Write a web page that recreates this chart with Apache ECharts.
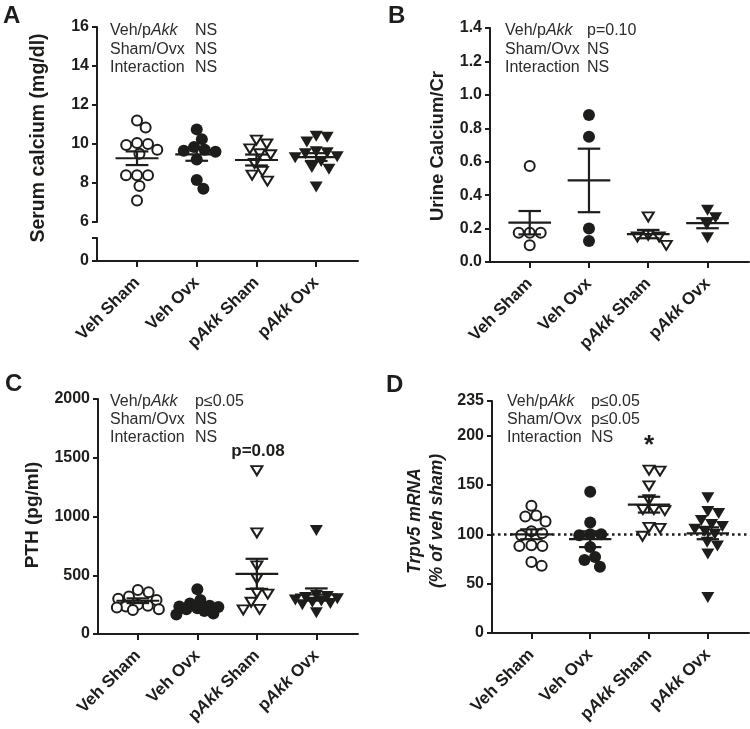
<!DOCTYPE html>
<html><head><meta charset="utf-8">
<script src="https://cdn.jsdelivr.net/npm/echarts@6/dist/echarts.min.js"></script>
<style>html,body{margin:0;padding:0;background:#fff}#c{width:750px;height:729px}</style>
</head><body><div id="c"></div>
<script>
// ---------- DATA ----------
const categories = ['Veh Sham', 'Veh Ovx', 'pAkk Sham', 'pAkk Ovx'];

// A: Serum calcium (mg/dl)
const serumVehSham = [11.2, 10.85, 10.05, 10.0, 9.95, 9.7, 9.5, 8.4, 8.4, 8.4, 7.85, 7.1];
const serumVehOvx  = [10.75, 10.25, 9.85, 9.7, 9.65, 9.6, 9.2, 8.15, 7.7];
const serumAkkSham = [10.2, 10.0, 9.75, 9.5, 9.45, 9.0, 8.6, 8.4, 8.1];
const serumAkkOvx  = [10.4, 10.35, 10.1, 9.6, 9.55, 9.5, 9.35, 9.3, 9.1, 8.8, 8.7, 7.8];
const serumMean = [9.27, 9.47, 9.18, 9.33];
const serumSem  = [0.35, 0.33, 0.28, 0.2];

// B: Urine Calcium/Cr
const urineVehSham = [0.575, 0.175, 0.175, 0.175, 0.1];
const urineVehOvx  = [0.88, 0.75, 0.2, 0.125];
const urineAkkSham = [0.27, 0.16, 0.15, 0.15, 0.1];
const urineAkkOvx  = [0.31, 0.265, 0.225, 0.145];
const urineMean = [0.235, 0.488, 0.167, 0.232];
const urineSem  = [0.07, 0.19, 0.025, 0.03];

// C: PTH (pg/ml)
const pthVehSham = [375, 355, 320, 300, 290, 250, 240, 235, 225, 210, 205];
const pthVehOvx  = [380, 290, 260, 240, 235, 230, 220, 210, 195, 175, 165];
const pthAkkSham = [1390, 860, 580, 470, 350, 340, 270, 210, 205];
const pthAkkOvx  = [880, 330, 320, 310, 300, 290, 280, 270, 260, 250, 180];
const pthMean = [283, 240, 512, 336];
const pthSem  = [20, 22, 128, 52];

// D: Trpv5 mRNA (% of veh sham)
const trpvVehSham = [129, 119, 118, 113, 103, 101, 99, 89, 88, 88, 72, 68];
const trpvVehOvx  = [143, 112, 100, 100, 99, 87, 77, 74, 67];
const trpvAkkSham = [165, 164, 149, 135, 125, 125, 124, 107, 106, 98];
const trpvAkkOvx  = [137, 123, 121, 114, 110, 108, 105, 103, 100, 92, 88, 80, 36];
const trpvMean = [100, 95, 130, 101];
const trpvSem  = [5, 8, 8, 6];
const trpvTicks = [0, 50, 100, 150, 200, 235];
const trpvReference = 100;

// ---------- LAYOUT ----------
const FONT = "'Liberation Sans', Arial, Helvetica, sans-serif";
const INK = '#1d1d1b';
const X_MIN = 0.33, X_MAX = 4.7;
const grids = [
  {left: 97,  top: 27,  width: 261, height: 195}, // A upper (6-16)
  {left: 97,  top: 238, width: 261, height: 23},  // A lower (0)
  {left: 490, top: 28,  width: 259, height: 234}, // B
  {left: 98,  top: 399, width: 260, height: 235}, // C
  {left: 492, top: 401, width: 257, height: 232}  // D
];

// simple beeswarm: offsets (px) that avoid overlap, limited to a max half-width
function swarm(values, pxPerY, pxPerX, diam, maxHalf) {
  const order = values.map((v, i) => i).sort((a, b) => values[b] - values[a]);
  const placed = [];
  const off = new Array(values.length).fill(0);
  for (const i of order) {
    const y = values[i] * pxPerY;
    let cands = [0];
    for (const p of placed) {
      const dy = Math.abs(p.y - y);
      if (dy < diam) {
        const dx = Math.sqrt(diam * diam - dy * dy);
        cands.push(p.x + dx, p.x - dx);
      }
    }
    cands = cands.filter(c => Math.abs(c) <= maxHalf + 1e-6);
    cands.sort((a, b) => Math.abs(a) - Math.abs(b) || b - a);
    let chosen = null;
    for (const c of cands) {
      if (placed.every(p => (p.x - c) ** 2 + (p.y - y) ** 2 >= diam * diam - 1e-6)) { chosen = c; break; }
    }
    if (chosen === null) {
      let best = -1;
      for (let c = -maxHalf; c <= maxHalf + 1e-6; c += 1) {
        const md = Math.min(...placed.map(p => Math.hypot(p.x - c, p.y - y)));
        if (md > best + 1e-6 || (Math.abs(md - best) < 1e-6 && Math.abs(c) < Math.abs(chosen))) { best = md; chosen = c; }
      }
    }
    off[i] = chosen / pxPerX;
    placed.push({x: chosen, y});
  }
  return off;
}

const markerStyles = [
  {symbol: 'circle', symbolSize: 10, symbolRotate: 0, itemStyle: {color: '#fff', borderColor: INK, borderWidth: 2, opacity: 1}},
  {symbol: 'circle', symbolSize: 12, symbolRotate: 0, itemStyle: {color: INK, borderWidth: 0, opacity: 1}},
  {symbol: 'triangle', symbolSize: [11, 9], symbolRotate: 180, itemStyle: {color: '#fff', borderColor: INK, borderWidth: 2, opacity: 1}},
  {symbol: 'triangle', symbolSize: [13, 11], symbolRotate: 180, itemStyle: {color: INK, borderWidth: 0, opacity: 1}}
];

const panels = [
  {grid: 0, yMin: 6, yMax: 16, groups: [serumVehSham, serumVehOvx, serumAkkSham, serumAkkOvx], mean: serumMean, sem: serumSem},
  {grid: 2, yMin: 0, yMax: 1.4, groups: [urineVehSham, urineVehOvx, urineAkkSham, urineAkkOvx], mean: urineMean, sem: urineSem},
  {grid: 3, yMin: 0, yMax: 2000, groups: [pthVehSham, pthVehOvx, pthAkkSham, pthAkkOvx], mean: pthMean, sem: pthSem},
  {grid: 4, yMin: 0, yMax: 235, groups: [trpvVehSham, trpvVehOvx, trpvAkkSham, trpvAkkOvx], mean: trpvMean, sem: trpvSem, refLine: trpvReference}
];

const catRich = {
  n: {fontFamily: FONT, fontWeight: 'bold', fontSize: 17, color: INK},
  i: {fontFamily: FONT, fontWeight: 'bold', fontStyle: 'italic', fontSize: 17, color: INK}
};
function catLabel(v) {
  const name = categories[Math.round(v) - 1] || '';
  if (name.indexOf('pAkk') === 0) return '{n|p}{i|Akk}{n|' + name.slice(4) + '}';
  return '{n|' + name + '}';
}

const axisLineStyle = {lineStyle: {color: INK, width: 2}};
const tickStyle = {length: 5, lineStyle: {color: INK, width: 2}};
const yLabel = {fontFamily: FONT, fontWeight: 'bold', fontSize: 16, color: INK, margin: 8, formatter: v => String(v)};

const xAxes = grids.map((g, gi) => ({
  type: 'value', gridIndex: gi, min: X_MIN, max: X_MAX, show: gi !== 0,
  splitLine: {show: false},
  axisLine: {show: true, onZero: false, ...axisLineStyle},
  axisTick: {show: true, length: 6, lineStyle: {color: INK, width: 2}, customValues: [1, 2, 3, 4]},
  axisLabel: {show: true, customValues: [1, 2, 3, 4], rotate: 45, margin: 19, formatter: catLabel, rich: catRich}
}));

const yAxes = [
  {type: 'value', gridIndex: 0, min: 6, max: 16, interval: 2},
  {type: 'value', gridIndex: 1, min: 0, max: 1, interval: 1, axisLabel: {formatter: v => v === 0 ? '0' : ''}},
  {type: 'value', gridIndex: 2, min: 0, max: 1.4, interval: 0.2, axisLabel: {formatter: v => v.toFixed(1)}},
  {type: 'value', gridIndex: 3, min: 0, max: 2000, interval: 500},
  {type: 'value', gridIndex: 4, min: 0, max: 235, axisLabel: {customValues: trpvTicks}, axisTick: {customValues: trpvTicks}}
].map(a => ({
  ...a,
  splitLine: {show: false},
  axisLine: {show: true, onZero: false, ...axisLineStyle},
  axisTick: {show: true, ...tickStyle, ...(a.axisTick || {})},
  axisLabel: {...yLabel, ...(a.axisLabel || {})}
}));

const series = [];
panels.forEach(p => {
  const g = grids[p.grid];
  const pxPerY = g.height / (p.yMax - p.yMin);
  const pxPerX = g.width / (X_MAX - X_MIN);
  p.groups.forEach((vals, gi) => {
    const off = swarm(vals, pxPerY, pxPerX, 11, 21);
    const ms = markerStyles[gi];
    const s = {
      type: 'scatter', xAxisIndex: p.grid, yAxisIndex: p.grid,
      symbol: ms.symbol, symbolSize: ms.symbolSize, symbolRotate: ms.symbolRotate,
      itemStyle: ms.itemStyle, silent: true, z: 3,
      data: vals.map((v, i) => [gi + 1 + off[i], v])
    };
    if (p.refLine !== undefined && gi === 0) {
      s.markLine = {
        silent: true, symbol: ['none', 'none'], label: {show: false},
        lineStyle: {color: INK, width: 2.5, type: [2.5, 3.5], opacity: 1},
        data: [{yAxis: p.refLine}], z: 2
      };
    }
    series.push(s);
  });
  series.push({
    type: 'custom', xAxisIndex: p.grid, yAxisIndex: p.grid, silent: true, z: 5,
    encode: {x: 0, y: 1},
    data: p.mean.map((m, i) => [i + 1, m, p.sem[i]]),
    renderItem: function (params, api) {
      const x = api.value(0), m = api.value(1), s = api.value(2);
      const hw = 0.36, cw = 0.19;
      const segs = [
        [[x - hw, m], [x + hw, m]],
        [[x, m - s], [x, m + s]],
        [[x - cw, m + s], [x + cw, m + s]],
        [[x - cw, m - s], [x + cw, m - s]]
      ];
      return {
        type: 'group',
        children: segs.map(sg => {
          const a = api.coord(sg[0]), b = api.coord(sg[1]);
          return {type: 'line', shape: {x1: a[0], y1: a[1], x2: b[0], y2: b[1]}, style: {stroke: INK, lineWidth: 2.2}};
        })
      };
    }
  });
});

// ---------- TEXT ----------
const statRich = {
  r: {font: '16px ' + FONT, fill: '#2b2b2b'},
  i: {font: 'italic 16px ' + FONT, fill: '#2b2b2b'}
};
function t(x, y, text, font, align) {
  return {type: 'text', x: x, y: y, silent: true, z: 10,
    style: {text: text, font: font, fill: INK, textAlign: align || 'left', textVerticalAlign: 'middle', rich: statRich}};
}
function statsBlock(x1, x2, y0, dy, vals) {
  const labels = ['{r|Veh/p}{i|Akk}', '{r|Sham/Ovx}', '{r|Interaction}'];
  const out = [];
  labels.forEach((l, i) => {
    out.push(t(x1, y0 + i * dy, l, '16px ' + FONT));
    out.push(t(x2, y0 + i * dy, '{r|' + vals[i] + '}', '16px ' + FONT));
  });
  return out;
}
function vtitle(x, y, text, font) {
  return {type: 'text', x: x, y: y, rotation: Math.PI / 2, silent: true, z: 10,
    style: {text: text, font: font, fill: INK, textAlign: 'center', textVerticalAlign: 'middle', lineHeight: 22}};
}
const bold = s => 'bold ' + s + 'px ' + FONT;

const graphic = [
  t(3, 16, 'A', bold(24)), t(388, 16, 'B', bold(24)),
  t(5, 384, 'C', bold(24)), t(386, 385, 'D', bold(24)),
  ...statsBlock(110, 195, 31, 18.5, ['NS', 'NS', 'NS']),
  ...statsBlock(505, 587, 31, 18.5, ['p=0.10', 'NS', 'NS']),
  ...statsBlock(110, 195, 402, 18, ['p\u22640.05', 'NS', 'NS']),
  ...statsBlock(507, 591, 402, 18, ['p\u22640.05', 'p\u22640.05', 'NS']),
  vtitle(39, 138, 'Serum calcium (mg/dl)', bold(19.5)),
  vtitle(438, 146, 'Urine Calcium/Cr', bold(18.5)),
  vtitle(33, 515, 'PTH (pg/ml)', bold(19)),
  vtitle(426, 521, 'Trpv5 mRNA\n(% of veh sham)', 'italic bold 17.5px ' + FONT),
  t(258, 451, 'p=0.08', bold(17), 'center'),
  t(649, 446, '*', bold(26), 'center')
];

const chart = echarts.init(document.getElementById('c'), null, {renderer: 'canvas'});
chart.setOption({
  animation: false,
  backgroundColor: '#fff',
  grid: grids.map(g => ({...g, containLabel: false, outerBoundsMode: 'none'})),
  xAxis: xAxes,
  yAxis: yAxes,
  series: series,
  graphic: graphic
});
</script>
</body></html>
